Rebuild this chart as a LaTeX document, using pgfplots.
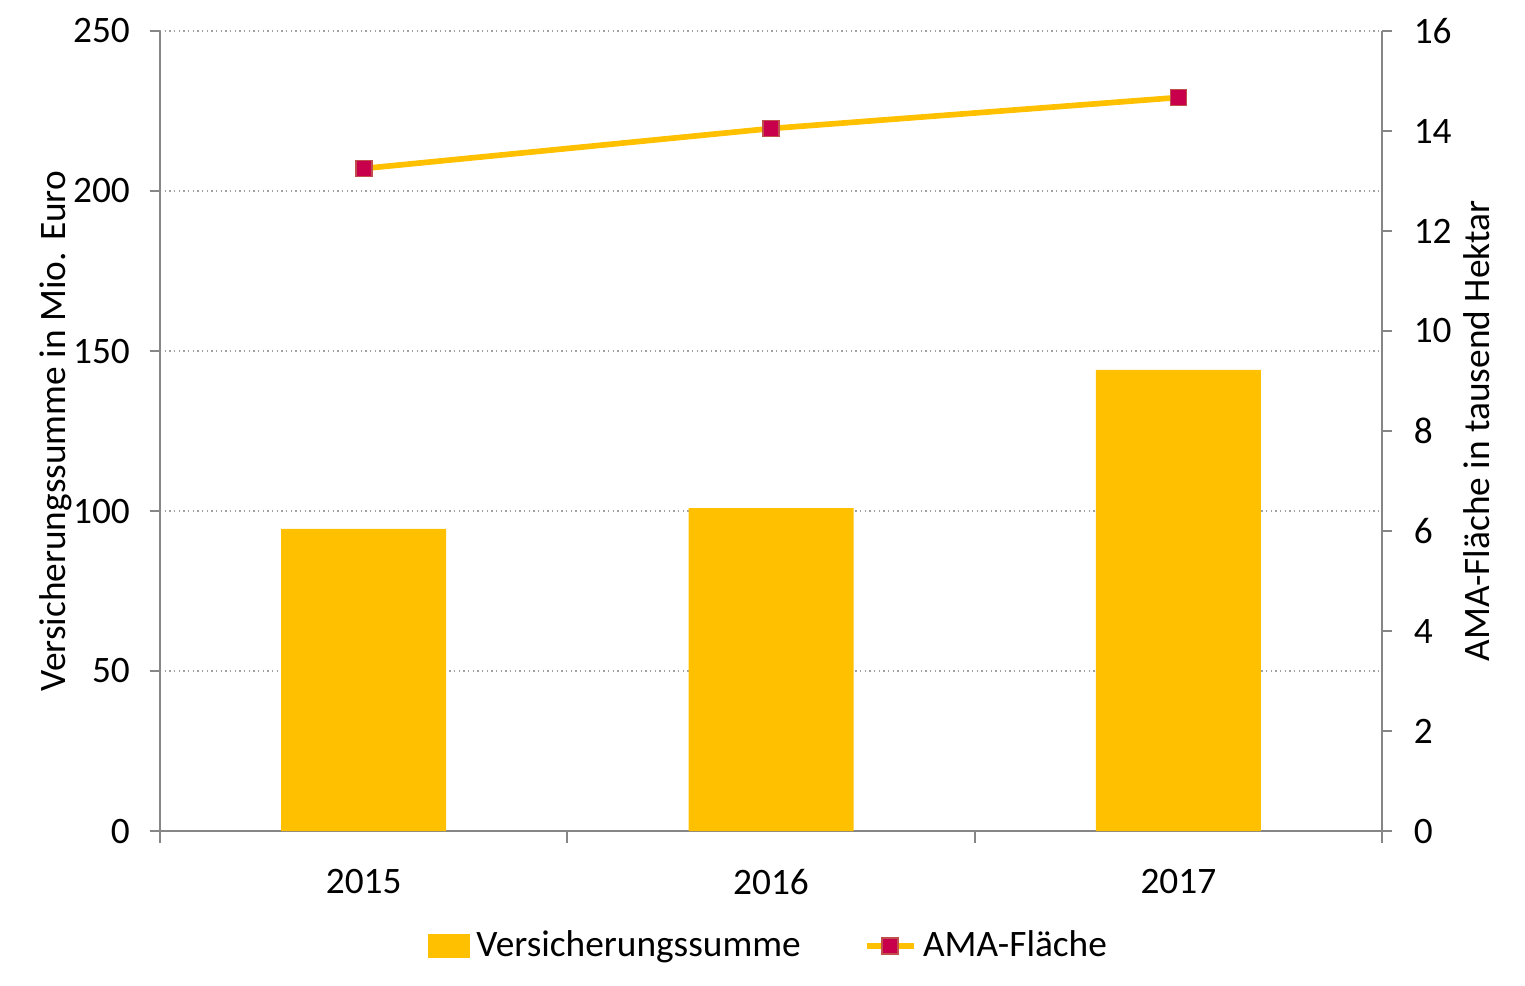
\documentclass[border=0pt]{standalone}
\usepackage{pgfplots}
\pgfplotsset{compat=1.18}
\usepackage{fontspec}
\setmainfont{Carlito}
\definecolor{barc}{HTML}{FFC000}
\definecolor{markc}{HTML}{C8004B}
\definecolor{markd}{HTML}{C0504D}
\definecolor{axc}{HTML}{868686}
\definecolor{gridc}{HTML}{A0A0A0}
\begin{document}
\begin{tikzpicture}[font=\fontsize{11.2}{13.4}\selectfont]
\path[use as bounding box] (-48pt,-46.2pt) rectangle (409.5pt,249.3pt);
\begin{axis}[
  scale only axis, width=366.6pt, height=240pt,
  at={(0,0)}, anchor=south west,
  xmin=-0.5, xmax=2.5, ymin=0, ymax=250,
  axis x line*=bottom, axis y line*=left,
  axis line style={draw=axc, line width=0.6pt},
  xtick={0,1,2}, xticklabels={2015,2016,2017},
  major x tick style={draw=none},
  minor xtick={-0.5,0.5,1.5,2.5},
  minor x tick style={draw=axc, line width=0.6pt},
  minor tick length=3.6pt,
  ytick={0,50,...,250},
  y tick style={draw=axc, line width=0.6pt},
  major tick length=3pt,
  tick align=outside,
  ymajorgrids, grid style={draw=gridc, densely dotted, line width=0.6pt},
  xticklabel style={yshift=-5pt},
  yticklabel style={xshift=-2.5pt},
  /pgf/number format/assume math mode=true,
  ylabel={Versicherungssumme in Mio. Euro},
  ylabel style={at={(axis description cs:0,0.5)}, anchor=south, yshift=23pt},
  clip=false,
]
\addplot[ybar, bar width=49.5pt, fill=barc, draw=none] coordinates {(0,94.4) (1,100.9) (2,144.1)};
\end{axis}
\begin{axis}[
  scale only axis, width=366.6pt, height=240pt,
  at={(0,0)}, anchor=south west,
  xmin=-0.5, xmax=2.5, ymin=0, ymax=16,
  axis x line=none, axis y line*=right,
  axis line style={draw=axc, line width=0.6pt},
  ytick={0,2,...,16},
  y tick style={draw=axc, line width=0.6pt},
  major tick length=3pt, tick align=outside,
  yticklabel style={xshift=3pt},
  /pgf/number format/assume math mode=true,
  ylabel={AMA-Fläche in tausend Hektar},
  ylabel style={at={(axis description cs:1,0.5)}, anchor=north, rotate=0, yshift=-21pt},
  legend style={at={(0.5,-0.107)}, anchor=north, draw=none, legend columns=2,
    /tikz/every even column/.append style={column sep=17pt},
    /tikz/every odd column/.append style={inner xsep=1pt},
    font=\fontsize{11.2}{13.4}\selectfont},
  legend cell align=left,
  clip=false,
]
\addlegendimage{legend image code/.code={\fill[barc] (0pt,-3.3pt) rectangle (12pt,3.3pt);}}
\addlegendentry{Versicherungssumme}
\addplot[color=barc, line width=1.7pt, mark=square*, mark size=2.4pt,
  mark options={fill=markc, draw=markd, line width=0.5pt},
  legend image code/.code={\draw[barc, line width=1.7pt] (0pt,0pt) -- (14pt,0pt);
    \fill[markc, draw=markd, line width=0.5pt] (4.6pt,-2.4pt) rectangle (9.4pt,2.4pt);}]
  coordinates {(0,13.25) (1,14.05) (2,14.67)};
\addlegendentry{AMA-Fläche}
\end{axis}
\end{tikzpicture}
\end{document}
